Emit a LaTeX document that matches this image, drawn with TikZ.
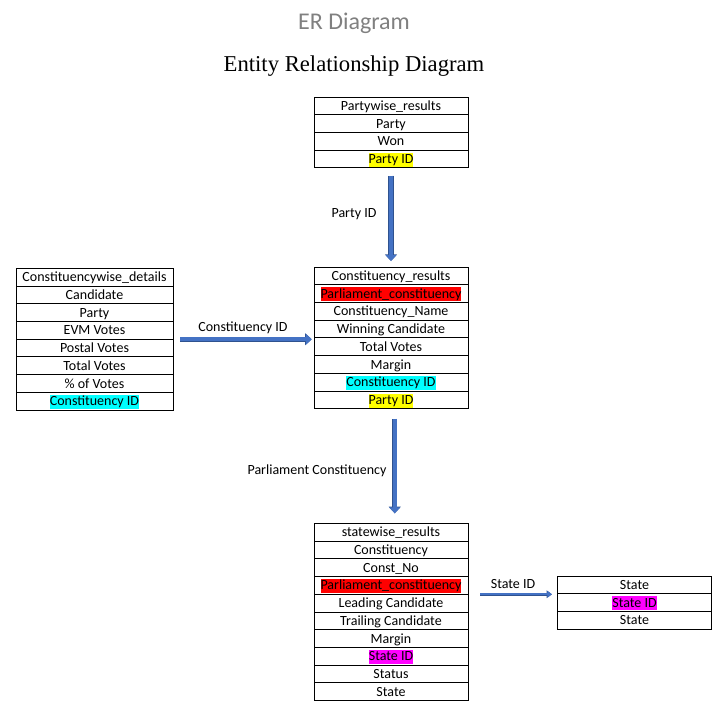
\documentclass[tikz,border=0pt]{standalone}
\usepackage{fontspec}
\setmainfont{Carlito}
\newfontfamily\titleserif{Liberation Serif}
\usetikzlibrary{positioning,arrows.meta}

\definecolor{linkblue}{HTML}{4472C4}
\definecolor{linkedge}{HTML}{2F528F}
\definecolor{titlegray}{HTML}{808080}
\definecolor{hlyellow}{HTML}{FFFF00}
\definecolor{hlred}{HTML}{FF0000}
\definecolor{hlcyan}{HTML}{00FFFF}
\definecolor{hlmagenta}{HTML}{FF00FF}

\newcommand{\hilite}[2]{{\setlength{\fboxsep}{0pt}\colorbox{#1}{\rule[-2.4pt]{0pt}{10.6pt}#2}}}

\tikzset{
  field/.style={draw, line width=0.75pt, minimum width=115.5pt, minimum height=13.3pt,
    inner sep=0pt, outer sep=0pt, text height=8.7pt, text depth=1.9pt,
    font=\fontsize{10.5}{12}\selectfont},
  lbl/.style={inner sep=0pt, font=\fontsize{10.5}{12}\selectfont},
  link/.style={draw=linkblue, line width=2.8pt,
    -{Triangle[width=8pt,length=4.4pt,fill=linkblue]},
    preaction={draw=linkedge, line width=4pt, -{Triangle[width=8.75pt,length=5pt]}}},
  thinlink/.style={draw=linkblue, line width=1.4pt,
    -{Triangle[width=4.8pt,length=3.4pt,fill=linkblue]},
    preaction={draw=linkedge, line width=2.4pt, -{Triangle[width=5.5pt,length=4pt]}}}
}

\begin{document}
\begin{tikzpicture}[x=0.75pt, y=-0.75pt]

  \useasboundingbox (0,0) rectangle (717,712);

  % titles
  \node[font=\fontsize{18}{20}\selectfont, text=titlegray] (ertitle) at (354,23) {ER Diagram};
  \node[font=\titleserif\fontsize{17}{20}\selectfont] (entitytitle) at (354,66) {Entity Relationship Diagram};

  % Partywise_results
  \begin{scope}[every node/.style={field}]
    \node (pw1) at (391,105.9) {Partywise\_results};
    \node[below=0pt of pw1] (pw2) {Party};
    \node[below=0pt of pw2] (pw3) {Won};
    \node[below=0pt of pw3] (pw4) {\hilite{hlyellow}{Party ID}};
  \end{scope}

  % Constituency_results
  \begin{scope}[every node/.style={field}]
    \node (cr1) at (391,275.9) {Constituency\_results};
    \node[below=0pt of cr1] (cr2) {\hilite{hlred}{Parliament\_constituency}};
    \node[below=0pt of cr2] (cr3) {Constituency\_Name};
    \node[below=0pt of cr3] (cr4) {Winning Candidate};
    \node[below=0pt of cr4] (cr5) {Total Votes};
    \node[below=0pt of cr5] (cr6) {Margin};
    \node[below=0pt of cr6] (cr7) {\hilite{hlcyan}{Constituency ID}};
    \node[below=0pt of cr7] (cr8) {\hilite{hlyellow}{Party ID}};
  \end{scope}

  % Constituencywise_details
  \begin{scope}[every node/.style={field, minimum width=117.75pt}]
    \node (cd1) at (94.5,277.2) {Constituencywise\_details};
    \node[below=0pt of cd1] (cd2) {Candidate};
    \node[below=0pt of cd2] (cd3) {Party};
    \node[below=0pt of cd3] (cd4) {EVM Votes};
    \node[below=0pt of cd4] (cd5) {Postal Votes};
    \node[below=0pt of cd5] (cd6) {Total Votes};
    \node[below=0pt of cd6] (cd7) {\% of Votes};
    \node[below=0pt of cd7] (cd8) {\hilite{hlcyan}{Constituency ID}};
  \end{scope}

  % statewise_results
  \begin{scope}[every node/.style={field}]
    \node (sw1) at (391,532.2) {statewise\_results};
    \node[below=0pt of sw1] (sw2) {Constituency};
    \node[below=0pt of sw2] (sw3) {Const\_No};
    \node[below=0pt of sw3] (sw4) {\hilite{hlred}{Parliament\_constituency}};
    \node[below=0pt of sw4] (sw5) {Leading Candidate};
    \node[below=0pt of sw5] (sw6) {Trailing Candidate};
    \node[below=0pt of sw6] (sw7) {Margin};
    \node[below=0pt of sw7] (sw8) {\hilite{hlmagenta}{State ID}};
    \node[below=0pt of sw8] (sw9) {Status};
    \node[below=0pt of sw9] (sw10) {State};
  \end{scope}

  % State
  \begin{scope}[every node/.style={field, minimum width=115.8pt}]
    \node (st1) at (634.5,584.9) {State};
    \node[below=0pt of st1] (st2) {\hilite{hlmagenta}{State ID}};
    \node[below=0pt of st2] (st3) {State};
  \end{scope}

  % relationships
  \draw[link, shorten <=5.8pt, shorten >=4.5pt] (pw4) -- (cr1);
  \draw[link, shorten <=5.25pt, shorten >=1.7pt] (cd4.south east) -- (cd4.south east -| cr4.west);
  \draw[link, shorten <=7.5pt, shorten >=7.5pt] ([xshift=2.8pt]cr8.south) -- ([xshift=2.8pt]sw1.north);
  \draw[thinlink, shorten <=9pt, shorten >=4pt] (sw4.south east) -- (sw4.south east -| st1.west);

  \node[lbl] (lpartyid) at (354,214) {Party ID};
  \node[lbl] (lconstid) at (243,328) {Constituency ID};
  \node[lbl] (lparlconst) at (317,471) {Parliament Constituency};
  \node[lbl] (lstateid) at (513,584) {State ID};

\end{tikzpicture}
\end{document}
